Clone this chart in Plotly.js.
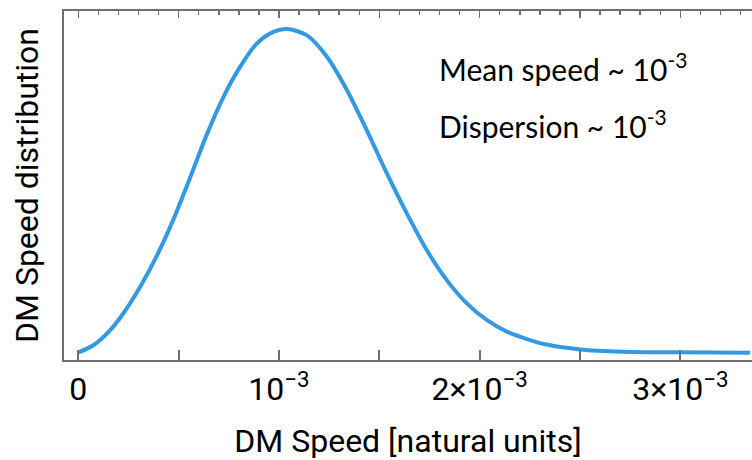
<!DOCTYPE html>
<html>
<head>
<meta charset="utf-8">
<script src="https://cdn.plot.ly/plotly-3.0.1.min.js"></script>
<style>html,body{margin:0;padding:0;background:#fff;}#chart{width:752px;height:460px;}</style>
</head>
<body>
<div id="chart"></div>
<script>
// DM speed (natural units) and relative distribution (peak = 1)
const speed = [0.0, 0.075e-3, 0.158e-3, 0.224e-3, 0.307e-3, 0.391e-3, 0.473e-3, 0.557e-3,
  0.640e-3, 0.723e-3, 0.806e-3, 0.889e-3, 0.972e-3, 1.039e-3, 1.138e-3, 1.238e-3, 1.338e-3,
  1.437e-3, 1.537e-3, 1.637e-3, 1.736e-3, 1.836e-3, 1.936e-3, 2.035e-3, 2.135e-3, 2.251e-3,
  2.334e-3, 2.500e-3, 2.716e-3, 2.998e-3, 3.347e-3];
const distribution = [0.002, 0.024, 0.070, 0.122, 0.203, 0.300, 0.411, 0.541,
  0.674, 0.790, 0.883, 0.955, 0.991, 1.000, 0.981, 0.915, 0.812,
  0.688, 0.555, 0.431, 0.318, 0.225, 0.153, 0.102, 0.066, 0.040,
  0.026, 0.011, 0.004, 0.002, 0.001];
const tickValues = [0, 0.5e-3, 1e-3, 1.5e-3, 2e-3, 2.5e-3, 3e-3];
const tickLabels = ['0', '', '10<sup>\u22123</sup>', '', '2\u00d710<sup>\u22123</sup>', '', '3\u00d710<sup>\u22123</sup>'];
const noteLines = ['Mean speed ~ 10<sup>-3</sup>', 'Dispersion ~ 10<sup>-3</sup>'];

const axisGray = '#6f6f6f';
const trace = {
  x: speed, y: distribution, type: 'scatter', mode: 'lines',
  line: {color: '#3399e3', width: 4, shape: 'spline', smoothing: 0.8},
  hoverinfo: 'skip', showlegend: false
};
const layout = {
  width: 752, height: 460,
  margin: {l: 64, r: 0, t: 11, b: 100},
  paper_bgcolor: '#fff', plot_bgcolor: '#fff',
  font: {family: 'Roboto, sans-serif', color: '#000'},
  xaxis: {
    range: [-0.0713e-3, 3.357e-3], showgrid: false, zeroline: false,
    showline: true, linecolor: axisGray, linewidth: 2,
    ticks: 'inside', ticklen: 10, tickwidth: 2, tickcolor: axisGray,
    tickmode: 'array', tickvals: tickValues, ticktext: tickLabels,
    tickfont: {family: 'Roboto', size: 32, color: '#000'},
    title: {text: 'DM Speed [natural units]', font: {family: 'Roboto', size: 32, color: '#000'}, standoff: 24},
    automargin: false
  },
  xaxis2: {
    overlaying: 'x', matches: 'x', side: 'top', anchor: 'y',
    range: [-0.0713e-3, 3.357e-3], showgrid: false, zeroline: false,
    showline: true, linecolor: axisGray, linewidth: 2,
    ticks: 'inside', ticklen: 7, tickwidth: 1.5, tickcolor: axisGray,
    tick0: 0, dtick: 0.5e-3, showticklabels: false,
    minor: {ticks: 'inside', dtick: 0.1e-3, tick0: 0, ticklen: 4, tickwidth: 1.5, tickcolor: axisGray}
  },
  yaxis: {
    range: [-0.0216, 1.0556], showgrid: false, zeroline: false,
    showline: true, linecolor: axisGray, linewidth: 2,
    ticks: '', showticklabels: false,
    title: {text: 'DM Speed distribution', font: {family: 'Roboto', size: 32, color: '#000'}, standoff: 14},
    automargin: false
  },
  annotations: [
    {text: noteLines[0], xref: 'paper', yref: 'paper', x: 0.542, y: 0.84, xanchor: 'left', yanchor: 'middle',
     showarrow: false, font: {family: 'Lato', size: 30, color: '#000'}},
    {text: noteLines[1], xref: 'paper', yref: 'paper', x: 0.542, y: 0.675, xanchor: 'left', yanchor: 'middle',
     showarrow: false, font: {family: 'Lato', size: 30, color: '#000'}}
  ]
};
const trace2 = Object.assign({}, trace, {xaxis: 'x2', line: {color: 'rgba(0,0,0,0)', width: 0}});
Plotly.newPlot('chart', [trace, trace2], layout, {staticPlot: true, displayModeBar: false});
</script>
</body>
</html>
